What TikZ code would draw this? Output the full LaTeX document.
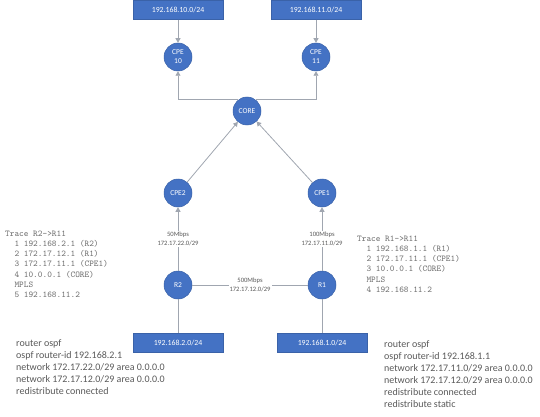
\documentclass[tikz,border=0pt]{standalone}
\usepackage{fontspec}
\setmainfont{Carlito}
\usetikzlibrary{arrows.meta}
\definecolor{nodeblue}{HTML}{4472C4}
\definecolor{nodeedge}{HTML}{3A62A8}
\definecolor{wire}{HTML}{A0A6B0}
\definecolor{cfgtext}{HTML}{595959}
\definecolor{tracetext}{HTML}{707070}
\begin{document}
\begin{tikzpicture}[x=1pt,y=-1pt,
  router/.style={circle,draw=nodeedge,line width=.5pt,fill=nodeblue,minimum size=28pt,inner sep=0pt,text=white,font=\fontsize{7.5}{9}\selectfont,align=center},
  subnet/.style={draw=nodeedge,line width=.5pt,fill=nodeblue,minimum width=90pt,minimum height=19pt,inner sep=0pt,text=white,font=\fontsize{7.8}{9}\selectfont},
  link/.style={wire,line width=.8pt},
  uplink/.style={link,-{Triangle[width=5pt,length=4.5pt]}},
  linklbl/.style={fill=white,inner sep=1pt,text=cfgtext,font=\fontsize{6.6}{8.5}\selectfont,align=center},
  trace/.style={anchor=north west,inner sep=0pt,align=left,text=tracetext,font=\ttfamily\fontsize{8.9}{10.2}\selectfont},
  ospf/.style={anchor=north west,inner sep=0pt,align=left,text=cfgtext,font=\fontsize{10}{12}\selectfont}]
  \useasboundingbox (0,0) rectangle (540,417);
  \node[subnet] (net10) at (178,10) {192.168.10.0/24};
  \node[subnet] (net11) at (316,10) {192.168.11.0/24};
  \node[router] (cpe10) at (178,57) {CPE\\10};
  \node[router] (cpe11) at (316,57) {CPE\\11};
  \node[router] (core) at (247,111) {CORE};
  \node[router] (cpe2) at (178,193) {CPE2};
  \node[router] (cpe1) at (322,193) {CPE1};
  \node[router] (r2) at (178,285) {R2};
  \node[router] (r1) at (322,285) {R1};
  \node[subnet] (net2) at (178,343) {192.168.2.0/24};
  \node[subnet] (net1) at (322,343) {192.168.1.0/24};
  \draw[uplink] (net10) -- (cpe10);
  \draw[uplink] (net11) -- (cpe11);
  \draw[uplink] (core.128) -| (cpe10);
  \draw[uplink] (core.52) -| (cpe11);
  \draw[uplink] (cpe2) -- (core);
  \draw[uplink] (cpe1) -- (core);
  \draw[uplink] (r2) -- node[linklbl] (bw22) {50Mbps\\172.17.22.0/29} (cpe2);
  \draw[uplink] (r1) -- node[linklbl] (bw11) {100Mbps\\172.17.11.0/29} (cpe1);
  \draw[link] (r2) -- node[linklbl] (bw12) {500Mbps\\172.17.12.0/29} (r1);
  \draw[link] (r2) -- (net2);
  \draw[link] (r1) -- (net1);
  \node[trace] (traceR2) at (5,230.5) {Trace R2->R11\\~~1 192.168.2.1 (R2)\\~~2 172.17.12.1 (R1)\\~~3 172.17.11.1 (CPE1)\\~~4 10.0.0.1 (CORE)\\~~MPLS\\~~5 192.168.11.2};
  \node[trace] (traceR1) at (357,235.5) {Trace R1->R11\\~~1 192.168.1.1 (R1)\\~~2 172.17.11.1 (CPE1)\\~~3 10.0.0.1 (CORE)\\~~MPLS\\~~4 192.168.11.2};
  \node[ospf] (ospfR2) at (16,339) {router ospf\\ospf router-id 192.168.2.1\\network 172.17.22.0/29 area 0.0.0.0\\network 172.17.12.0/29 area 0.0.0.0\\redistribute connected};
  \node[ospf] (ospfR1) at (384,340) {router ospf\\ospf router-id 192.168.1.1\\network 172.17.11.0/29 area 0.0.0.0\\network 172.17.12.0/29 area 0.0.0.0\\redistribute connected\\redistribute static};
\end{tikzpicture}
\end{document}
